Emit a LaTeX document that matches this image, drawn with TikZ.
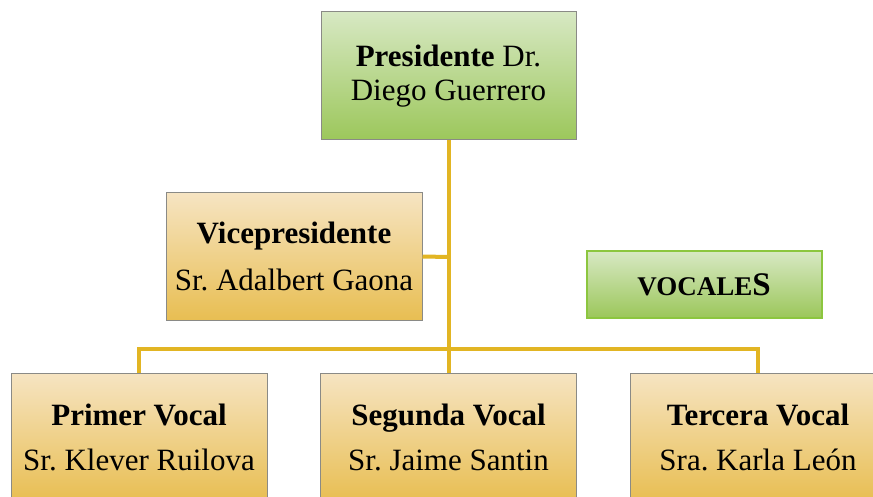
\documentclass[tikz,border=0pt]{standalone}
\usepackage{fontspec}
\setmainfont{Liberation Serif}
\frenchspacing
\definecolor{goldtop}{HTML}{F6E4C2}
\definecolor{goldbot}{HTML}{E8BE52}
\definecolor{greentop}{HTML}{D7E8C3}
\definecolor{greenbot}{HTML}{9CC75B}
\definecolor{linkcol}{HTML}{E2B523}
\definecolor{boxgray}{HTML}{8A8A86}
\definecolor{vocgreen}{HTML}{8CC63F}
\tikzset{
  goldbox/.style={draw=boxgray, line width=1pt, top color=goldtop, bottom color=goldbot,
    minimum width=256pt, inner sep=0pt, align=center},
  greenbox/.style={draw=boxgray, line width=1pt, top color=greentop, bottom color=greenbot,
    minimum width=255pt, inner sep=0pt, align=center},
  vocbox/.style={draw=vocgreen, line width=2pt, top color=greentop, bottom color=greenbot,
    minimum width=235pt, minimum height=66pt, inner sep=0pt, align=center},
  link/.style={draw=linkcol, line width=4pt},
}
\begin{document}
\begin{tikzpicture}[x=1pt, y=-1pt]
\useasboundingbox (0,0) rectangle (873,497);
\clip (0,0) rectangle (873,497);
% boxes
\node[greenbox, minimum height=128pt, font=\fontsize{31}{34}\selectfont] (pres) at (448.5,76)
  {\textbf{Presidente} Dr.\\Diego Guerrero};
\node[goldbox, minimum height=127pt, font=\fontsize{31}{47}\selectfont] (vice) at (294,256.5)
  {\textbf{Vicepresidente}\\Sr. Adalbert Gaona};
\node[vocbox, font=\fontsize{27}{30}\selectfont\bfseries] (voc) at (704,284.5)
  {VOCALE{\fontsize{33}{30}\selectfont S}};
\node[goldbox, minimum height=128pt, font=\fontsize{31}{45}\selectfont] (v1) at (139,437)
  {\textbf{Primer Vocal}\\Sr. Klever Ruilova};
\node[goldbox, minimum height=128pt, font=\fontsize{31}{45}\selectfont] (v2) at (448.5,437)
  {\textbf{Segunda Vocal}\\Sr. Jaime Santin};
\node[goldbox, minimum height=128pt, font=\fontsize{31}{45}\selectfont] (v3) at (758,437)
  {\textbf{Tercera Vocal}\\Sra. Karla León};
% connectors
\coordinate (bus) at (448.5,349);
\coordinate (vj) at (448.5,257);
\draw[link] (pres.south) -- (bus);
\draw[link] (vice.east) -- (vj);
\draw[link] (v1.north) |- (bus) -| (v3.north);
\draw[link] (bus) -- (v2.north);
\end{tikzpicture}
\end{document}
